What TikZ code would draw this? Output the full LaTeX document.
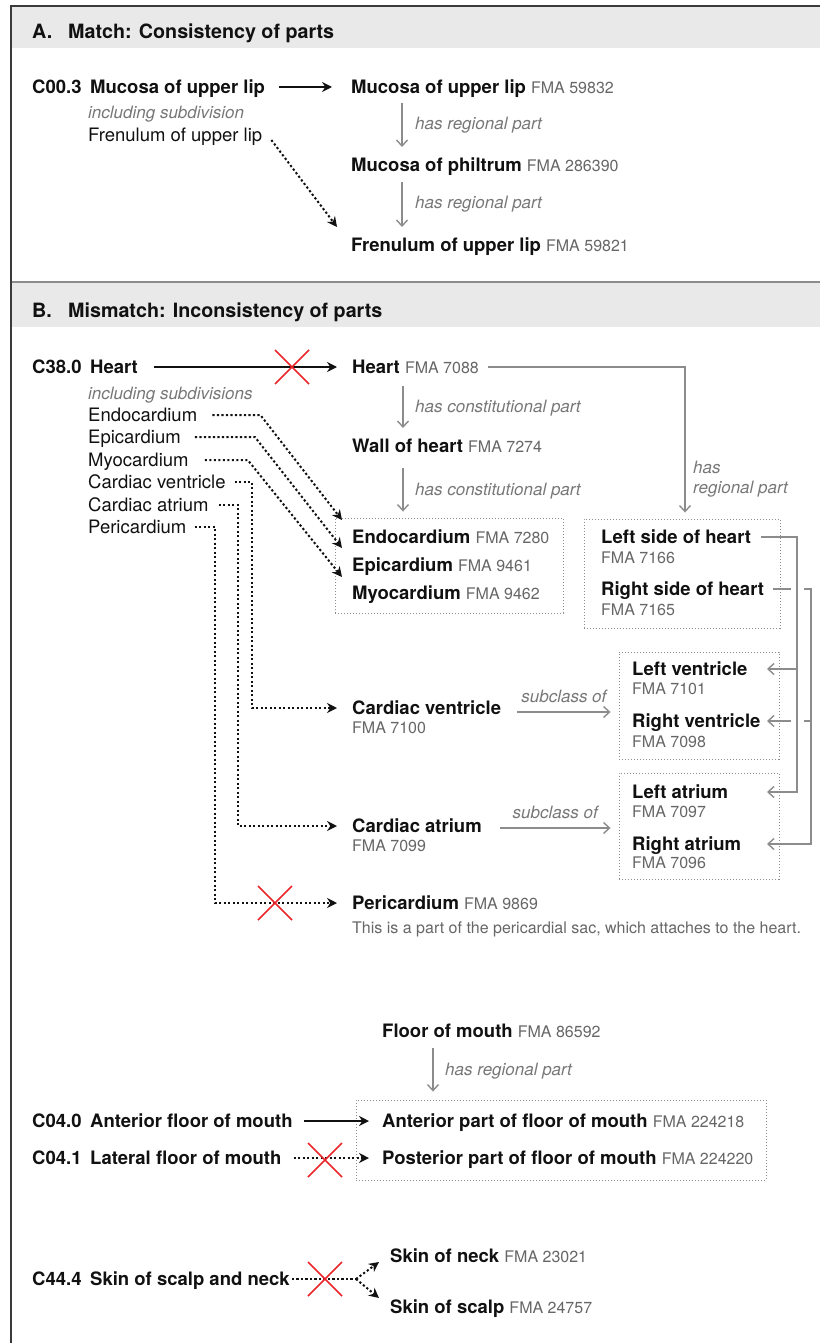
\documentclass[tikz,border=0pt]{standalone}
\usepackage{fontspec}
\setmainfont{TeX Gyre Heros}
\usetikzlibrary{arrows.meta,fit}
\definecolor{ink}{HTML}{111111}
\definecolor{fmagray}{HTML}{666666}
\definecolor{relgray}{HTML}{777777}
\definecolor{wire}{HTML}{8C8C8C}
\definecolor{band}{HTML}{E9E9E9}
\definecolor{frameline}{HTML}{3A3A3A}
\definecolor{crossred}{HTML}{E8262B}
\newcommand{\fma}[1]{{\fontsize{16}{19}\selectfont\mdseries\color{fmagray}FMA #1}}
\newcommand{\icd}[2]{\makebox[58pt][l]{#1}#2}

\begin{document}
\begin{tikzpicture}[x=1pt,y=-1pt,
 term/.style={anchor=west,inner sep=0pt,text height=13pt,text depth=0pt,font=\fontsize{18.5}{22}\selectfont\bfseries,text=ink},
 subterm/.style={term,font=\fontsize{18.5}{22}\selectfont},
 fmaline/.style={anchor=west,inner sep=0pt,text height=11.5pt,text depth=0pt,font=\fontsize{16}{19}\selectfont,text=fmagray},
 rel/.style={anchor=west,inner sep=0pt,text height=12pt,text depth=0pt,font=\fontsize{17}{20}\selectfont\itshape,text=relgray},
 heading/.style={anchor=west,inner sep=0pt,text height=14pt,text depth=0pt,font=\fontsize{19.7}{23}\selectfont\bfseries,text=ink},
 group/.style={draw=wire,line width=.9pt,dash pattern=on 1.2pt off 1.8pt,inner sep=0pt},
 maps/.style={draw=ink,line width=2pt,-{Stealth[length=10pt,width=10pt]}},
 maybe/.style={maps,dash pattern=on 2.2pt off 2.3pt},
 link/.style={draw=wire,line width=1.4pt},
 haspart/.style={link,-{Straight Barb[length=6pt,width=11pt]}},
 nomatch/.pic={\draw[crossred,line width=1.7pt] (-17,-17) -- (17,17) (-17,17) -- (17,-17);}]
 \useasboundingbox (0,0) rectangle (820,1343);
 \fill[band] (12,7) rectangle (820,48);
 \fill[band] (12,283) rectangle (820,327);
 \draw[wire,line width=1.2pt] (12,282) -- (820,282);
 \draw[frameline,line width=2pt] (820,6) -- (11,6) -- (11,1343);
 \node[heading] (hdrA) at (32,32) {\makebox[36pt][l]{A.}Match: Consistency of parts};
 \node[heading] (hdrB) at (32,310) {\makebox[36pt][l]{B.}Mismatch: Inconsistency of parts};

 \coordinate (axA) at (402,0);
 \node[term] (codeA) at (32,87) {\icd{C00.3}{Mucosa of upper lip}};
 \node[term] (mucA) at (351,87) {Mucosa of upper lip \fma{59832}};
 \node[rel] (inclA) at (88,113) {including subdivision};
 \node[subterm] (frenA) at (88,135) {Frenulum of upper lip};
 \node[term] (philA) at (351,165) {Mucosa of philtrum \fma{286390}};
 \node[term] (frenB) at (351,245) {Frenulum of upper lip \fma{59821}};
 \node[rel] (lblA1) at (415,124) {has regional part};
 \node[rel] (lblA2) at (415,202) {has regional part};
 \draw[maps,shorten <=14pt,shorten >=19pt] (codeA.east) -- (mucA.west);
 \draw[maybe] ([shift={(9,5)}]frenA.east) -- ([shift={(-14,-18)}]frenB.west);
 \draw[haspart,shorten <=16pt,shorten >=18pt] (mucA.west -| axA) -- (philA.west -| axA);
 \draw[haspart,shorten <=17pt,shorten >=18pt] (philA.west -| axA) -- (frenB.west -| axA);

 \coordinate (axB) at (403,0);
 \coordinate (busH) at (685,0);
 \coordinate (ventBus) at (252,0);
 \coordinate (atrBus) at (238,0);
 \coordinate (periBus) at (215,0);
 \coordinate (lbus) at (797,0);
 \coordinate (rbus) at (811,0);
 \coordinate (tipx) at (767,0);
 \node[term] (codeB) at (32,367) {\icd{C38.0}{Heart}};
 \node[term] (heartF) at (352,367) {Heart \fma{7088}};
 \node[rel] (inclB) at (88,393) {including subdivisions};
 \node[subterm] (endoL) at (88,415) {Endocardium};
 \node[subterm] (epiL) at (88,437) {Epicardium};
 \node[subterm] (myoL) at (88,460) {Myocardium};
 \node[subterm] (ventL) at (88,482) {Cardiac ventricle};
 \node[subterm] (atrL) at (88,505) {Cardiac atrium};
 \node[subterm] (periL) at (88,527) {Pericardium};
 \node[rel] (lblB1) at (415,406) {has constitutional part};
 \node[term] (wallF) at (352,446) {Wall of heart \fma{7274}};
 \node[rel] (lblB2) at (415,489) {has constitutional part};
 \node[rel,anchor=north west,text height=,align=left,font=\fontsize{17}{20}\selectfont\itshape] (lblB3) at (693,461) {has\\regional part};
 \node[group,fit={(335,518) (563,613)}] (box1) {};
 \node[term] (endoF) at (352,537) {Endocardium \fma{7280}};
 \node[term] (epiF) at (352,565) {Epicardium \fma{9461}};
 \node[term] (myoF) at (352,593) {Myocardium \fma{9462}};
 \node[group,fit={(584,519) (780,628)}] (box2) {};
 \node[term] (lsideF) at (601,537) {Left side of heart};
 \node[fmaline] (lsideN) at (601,558) {FMA 7166};
 \node[term] (rsideF) at (601,589) {Right side of heart};
 \node[fmaline] (rsideN) at (601,610) {FMA 7165};
 \node[group,fit={(619,652) (779,759)}] (box3) {};
 \node[term] (lvF) at (632,669) {Left ventricle};
 \node[fmaline] (lvN) at (632,689) {FMA 7101};
 \node[term] (rvF) at (632,721) {Right ventricle};
 \node[fmaline] (rvN) at (632,742) {FMA 7098};
 \node[group,fit={(619,773) (779,879)}] (box4) {};
 \node[term] (laF) at (632,792) {Left atrium};
 \node[fmaline] (laN) at (632,812) {FMA 7097};
 \node[term] (raF) at (632,844) {Right atrium};
 \node[fmaline] (raN) at (632,863) {FMA 7096};
 \node[term] (ventF) at (352,708) {Cardiac ventricle};
 \node[fmaline] (ventN) at (352,728) {FMA 7100};
 \node[term] (atrF) at (352,826) {Cardiac atrium};
 \node[fmaline] (atrN) at (352,846) {FMA 7099};
 \node[term] (periF) at (352,903) {Pericardium \fma{9869}};
 \node[fmaline] (periNote) at (352,928) {This is a part of the pericardial sac, which attaches to the heart.};
 \coordinate (noHeart) at (292,367);
 \coordinate (noPeri) at (275,903);
 \draw[maps] ([xshift=16pt]codeB.east) -- ([xshift=-15pt]heartF.west);
 \pic at (noHeart) {nomatch};
 \draw[maybe] ([xshift=15pt]endoL.east) -- ++(48,0) -- ([shift={(-10,-17)}]endoF.west);
 \draw[maybe] ([xshift=14pt]epiL.east) -- ++(60,0) -- ([shift={(-10,-17)}]epiF.west);
 \draw[maybe] ([xshift=16pt]myoL.east) -- ++(43,0) -- ([shift={(-10,-16)}]myoF.west);
 \draw[maybe] ([xshift=9pt]ventL.east) -| (ventBus |- ventF.west) -- ([xshift=-15pt]ventF.west);
 \draw[maybe] ([xshift=10pt]atrL.east) -| (atrBus |- atrF.west) -- ([xshift=-15pt]atrF.west);
 \draw[maybe] ([xshift=8pt]periL.east) -| (periBus |- periF.west) -- ([xshift=-15pt]periF.west);
 \pic at (noPeri) {nomatch};
 \draw[haspart,shorten <=19pt,shorten >=18pt] (heartF.west -| axB) -- (wallF.west -| axB);
 \draw[haspart,shorten <=22pt,shorten >=6pt] (wallF.west -| axB) -- (box1.north -| axB);
 \draw[haspart,shorten >=6pt] ([xshift=9pt]heartF.east) -| (busH |- box2.north);
 \draw[haspart] ([xshift=9pt]rsideF.east) -| (rbus |- raF.west) -- (tipx |- raF.west);
 \draw[haspart] (rbus |- rvF.west) -- (tipx |- rvF.west);
 \draw[link,preaction={draw=white,line width=13pt}] (lbus |- lsideF.west) -- (lbus |- laF.west);
 \draw[haspart] ([xshift=10pt]lsideF.east) -| (lbus |- laF.west) -- (tipx |- laF.west);
 \draw[haspart] (lbus |- lvF.west) -- (tipx |- lvF.west);
 \draw[haspart] ([shift={(16,4)}]ventF.east) -- ([shift={(-8,4)}]box3.west |- ventF.east) node[rel,midway,above=9pt] (subV) {subclass of};
 \draw[haspart] ([shift={(18,2)}]atrF.east) -- ([shift={(-8,2)}]box4.west |- atrF.east) node[rel,midway,above=9pt] (subA) {subclass of};

 \coordinate (axC) at (433,0);
 \node[term] (floorF) at (382,1031) {Floor of mouth \fma{86592}};
 \node[rel] (lblC) at (445,1069) {has regional part};
 \node[group,fit={(356,1100) (766,1180)}] (box5) {};
 \node[term] (codeC) at (32,1121) {\icd{C04.0}{Anterior floor of mouth}};
 \node[term] (antF) at (382,1121) {Anterior part of floor of mouth \fma{224218}};
 \node[term] (codeD) at (32,1158) {\icd{C04.1}{Lateral floor of mouth}};
 \node[term] (postF) at (382,1158) {Posterior part of floor of mouth \fma{224220}};
 \coordinate (noPost) at (325,1160);
 \draw[haspart,shorten <=17pt,shorten >=8pt] (floorF.west -| axC) -- (box5.north -| axC);
 \draw[maps] ([xshift=11pt]codeC.east) -- ([xshift=-13pt]antF.west);
 \draw[maybe] ([xshift=12pt]codeD.east) -- ([xshift=-13pt]postF.west);
 \pic at (noPost) {nomatch};

 \node[term] (codeE) at (32,1279) {\icd{C44.4}{Skin of scalp and neck}};
 \node[term] (neckF) at (390,1256) {Skin of neck \fma{23021}};
 \node[term] (scalpF) at (390,1307) {Skin of scalp \fma{24757}};
 \coordinate (split) at (356,1279);
 \coordinate (noSkin) at (325,1279);
 \draw[maybe,-] ([xshift=2pt]codeE.east) -- (split);
 \draw[maybe] (split) -- ([shift={(-11,6)}]neckF.west);
 \draw[maybe] (split) -- ([shift={(-11,-9)}]scalpF.west);
 \pic at (noSkin) {nomatch};
\end{tikzpicture}
\end{document}
